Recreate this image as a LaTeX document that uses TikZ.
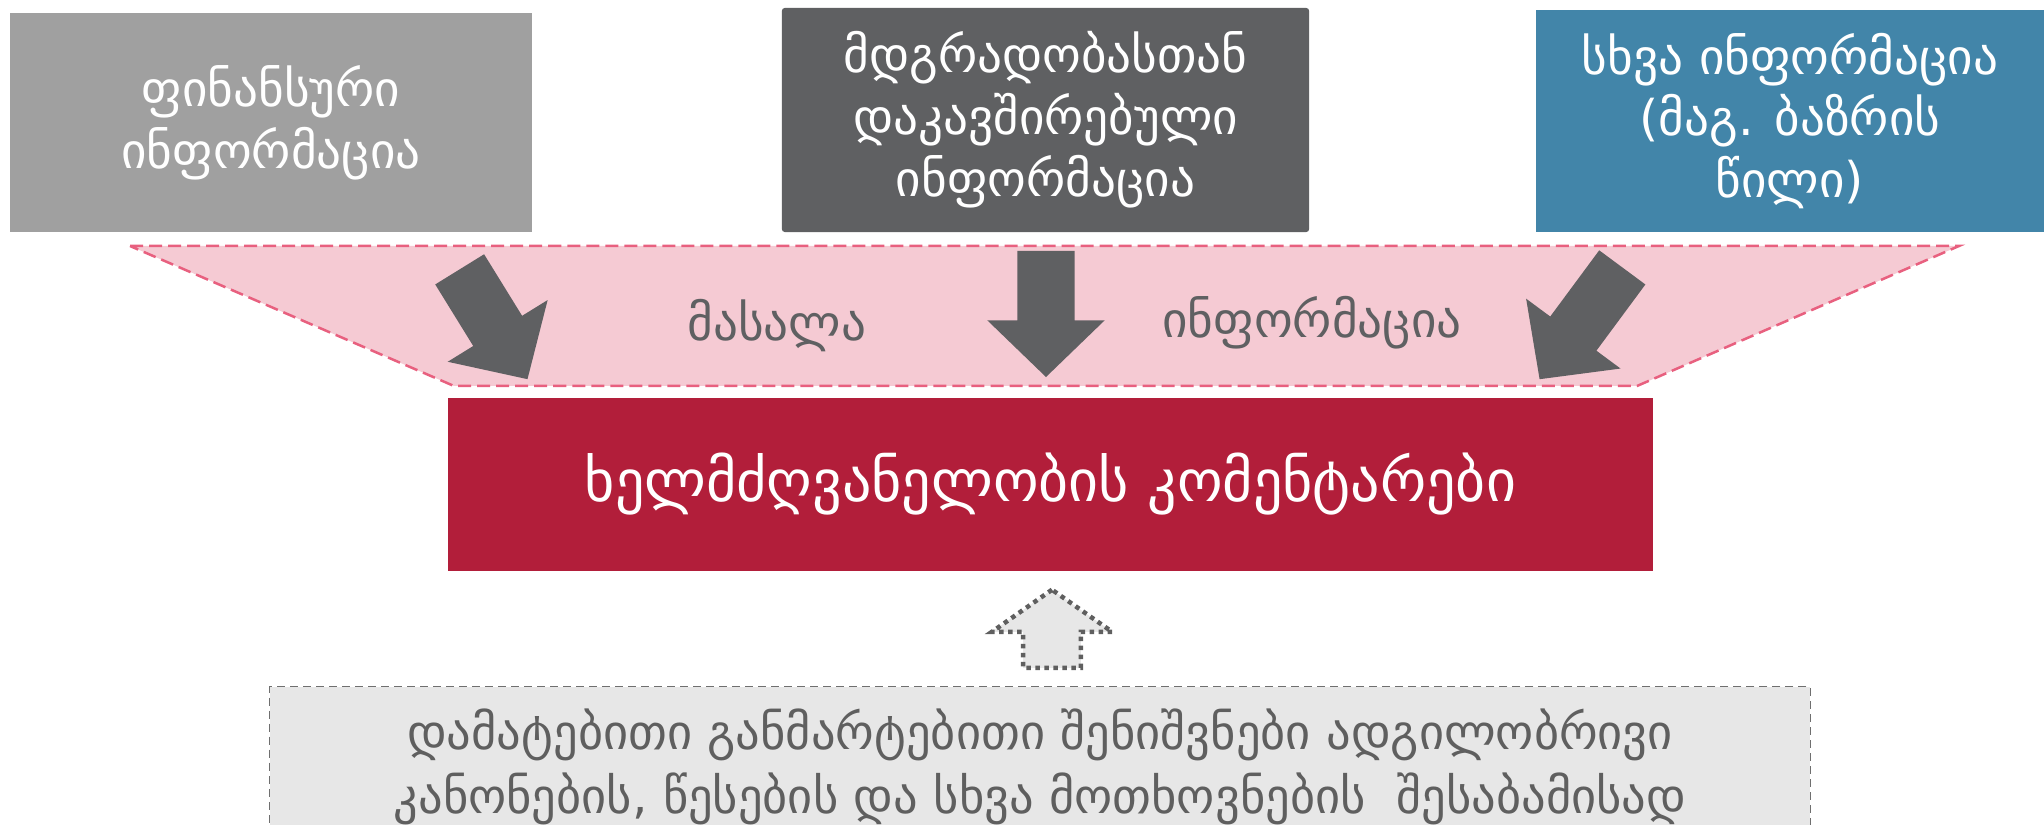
\documentclass[tikz,border=0pt]{standalone}
\usepackage{fontspec}
\setmainfont{DejaVu Sans}
\usepackage{tikz}
\usetikzlibrary{positioning,shapes.arrows}
\definecolor{finGray}{HTML}{A0A0A0}
\definecolor{sustGray}{HTML}{5F6062}
\definecolor{otherBlue}{HTML}{4285A9}
\definecolor{bandPink}{HTML}{F5CAD3}
\definecolor{bandLine}{HTML}{E8607F}
\definecolor{mgmtRed}{HTML}{B21E3A}
\definecolor{noteFill}{HTML}{E7E7E7}
\definecolor{noteLine}{HTML}{6F6F6F}
\definecolor{noteText}{HTML}{5F5F5F}
\tikzstyle{source} = [text=white,align=center,inner sep=0pt,font=\fontsize{14}{17.6}\selectfont]
\tikzstyle{blockarrow} = [single arrow,fill=sustGray,draw=none,inner xsep=0pt,inner ysep=0.28cm,single arrow head extend=0.3cm,single arrow tip angle=92,anchor=tip]
\tikzstyle{band label} = [text=sustGray,inner sep=0pt,font=\fontsize{14}{17}\selectfont]

\begin{document}
\begin{tikzpicture}[x=0.01cm,y=-0.01cm]
      \clip (0,0) rectangle (2044,825);
      % input boxes
      \node (fin)[source,fill=finGray,minimum width=5.22cm,minimum height=2.19cm] at (271,122.5) {ფინანსური\\ინფორმაცია};
      \node (sust)[source,fill=sustGray,rounded corners=0.3mm,minimum width=5.27cm,minimum height=2.24cm] at (1045.5,120) {მდგრადობასთან\\დაკავშირებული\\ინფორმაცია};
      \node (other)[source,fill=otherBlue,minimum width=5.08cm,minimum height=2.22cm] at (1790,121) {სხვა ინფორმაცია\\(მაგ. ბაზრის\\წილი)};

      % band
      \draw[bandLine,fill=bandPink,line width=0.25mm,dash pattern=on 1.3mm off 0.6mm] (130,246) -- (1959,246) -- (1637,386) -- (454,386) -- cycle;
      \node (mat)[band label] at (777,326) {მასალა};
      \node (inf)[band label] at (1312,323) {ინფორმაცია};

      \node (a1)[blockarrow,minimum height=1.29cm,rotate=-58.3] at (528,380) {};
      \node (a2)[blockarrow,minimum height=1.26cm,rotate=-90] at (1046,378) {};
      \node (a3)[blockarrow,minimum height=1.39cm,rotate=-126.5] at (1539,380) {};

      % management commentary
      \node (mgmt)[fill=mgmtRed,text=white,minimum width=12.05cm,minimum height=1.73cm,font=\fontsize{16.5}{20}\selectfont] at (1050.5,484.5) {ხელმძღვანელობის კომენტარები};

      % notes
      \node (notes)[fill=noteFill,draw=noteLine,line width=0.15mm,dash pattern=on 0.8mm off 0.5mm,anchor=north,minimum width=15.4cm,minimum height=2.5cm] at (1040,686) {};
      \node (notesText)[below=0.22cm of notes.north,text=noteText,align=center,inner sep=0pt,font=\fontsize{13.8}{18.2}\selectfont] {დამატებითი განმარტებითი შენიშვნები ადგილობრივი\\კანონების, წესების და სხვა მოთხოვნების\ \ შესაბამისად};
      \node (up)[single arrow,fill=noteFill,draw=noteText,line width=0.45mm,dash pattern=on 0.45mm off 0.45mm,inner xsep=0pt,inner ysep=0.265cm,minimum height=0.78cm,single arrow head extend=0.315cm,single arrow tip angle=110,rotate=90,anchor=tip] at (1052,587) {};
\end{tikzpicture}
\end{document}
